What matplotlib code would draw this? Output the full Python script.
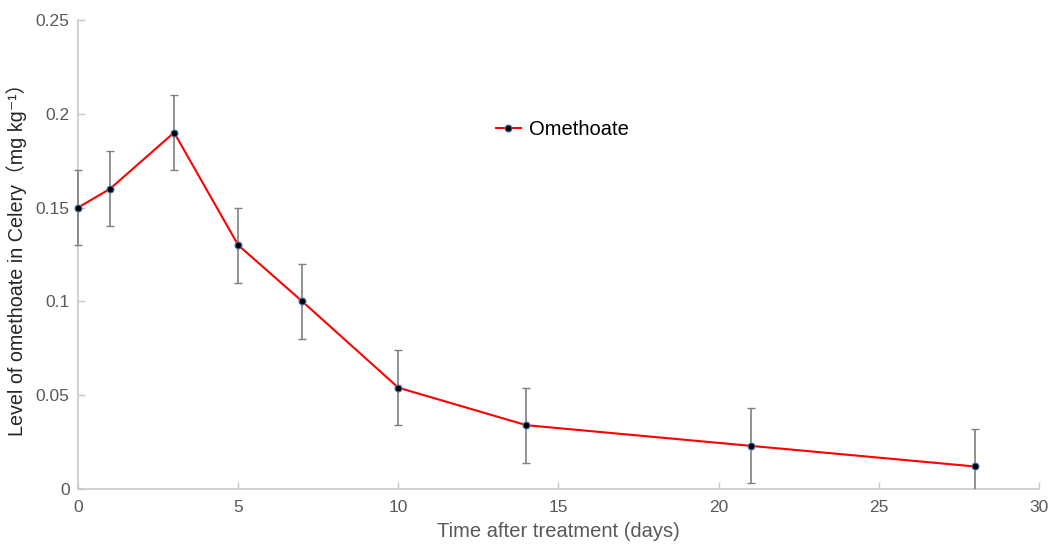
import numpy as np
import matplotlib
matplotlib.use("Agg")
import matplotlib.pyplot as plt
from matplotlib.patches import Rectangle

# residue data
days = [0, 1, 3, 5, 7, 10, 14, 21, 28]
level = [0.15, 0.16, 0.19, 0.13, 0.10, 0.054, 0.034, 0.023, 0.012]
err = [0.02, 0.02, 0.02, 0.02, 0.02, 0.02, 0.02, 0.02, 0.02]
xticks = [0, 5, 10, 15, 20, 25, 30]
yticks = [0, 0.05, 0.1, 0.15, 0.2, 0.25]
ytick_labels = ["0", "0.05", "0.1", "0.15", "0.2", "0.25"]

fam = ["Liberation Sans", "Noto Sans CJK SC", "DejaVu Sans"]
plt.rcParams["font.family"] = fam

fig = plt.figure(figsize=(10.5, 5.46), dpi=100)
ax = fig.add_axes([0.0743, 0.1044, 0.9152, 0.859])

eb = ax.errorbar(days, level, yerr=err, fmt="none", ecolor="#7f7f7f",
                 elinewidth=1.2, capsize=3, capthick=1, zorder=3)
# clip only below the x axis so the bar at day 0 stays whole
clip = Rectangle((-0.05, 0), 1.1, 1.2, transform=ax.transAxes)
for art in list(eb[1]) + list(eb[2]):
    art.set_clip_path(clip)

ax.plot(days, level, color="red", lw=1.5, marker="o", ms=5,
        mfc="black", mec="#4a7ebb", mew=0.8, label="Omethoate", zorder=4,
        clip_on=False)

ax.set_xlim(0, 30)
ax.set_ylim(0, 0.25)
ax.set_xticks(xticks)
ax.set_yticks(yticks)
ax.set_yticklabels(ytick_labels)

for s in ["top", "right"]:
    ax.spines[s].set_visible(False)
for s in ["left", "bottom"]:
    ax.spines[s].set_color("#c8c8c8")
    ax.spines[s].set_linewidth(1.2)
ax.tick_params(direction="in", length=5, color="#c8c8c8", width=1,
               labelcolor="#595959", labelsize=12.5)
ax.tick_params(axis="x", pad=8)
ax.tick_params(axis="y", pad=6)

ax.set_xlabel("Time after treatment (days)", fontsize=14.5, color="#595959", labelpad=5)
ax.set_ylabel("Level of omethoate in Celery（mg kg⁻¹）", fontsize=14.2,
              color="#262626", labelpad=6)

ax.legend(loc="center left", bbox_to_anchor=(0.4165, 0.7665), frameon=False,
          fontsize=14.5, handlelength=1.2, handletextpad=0.4)

fig.savefig("out.png", dpi=100)
